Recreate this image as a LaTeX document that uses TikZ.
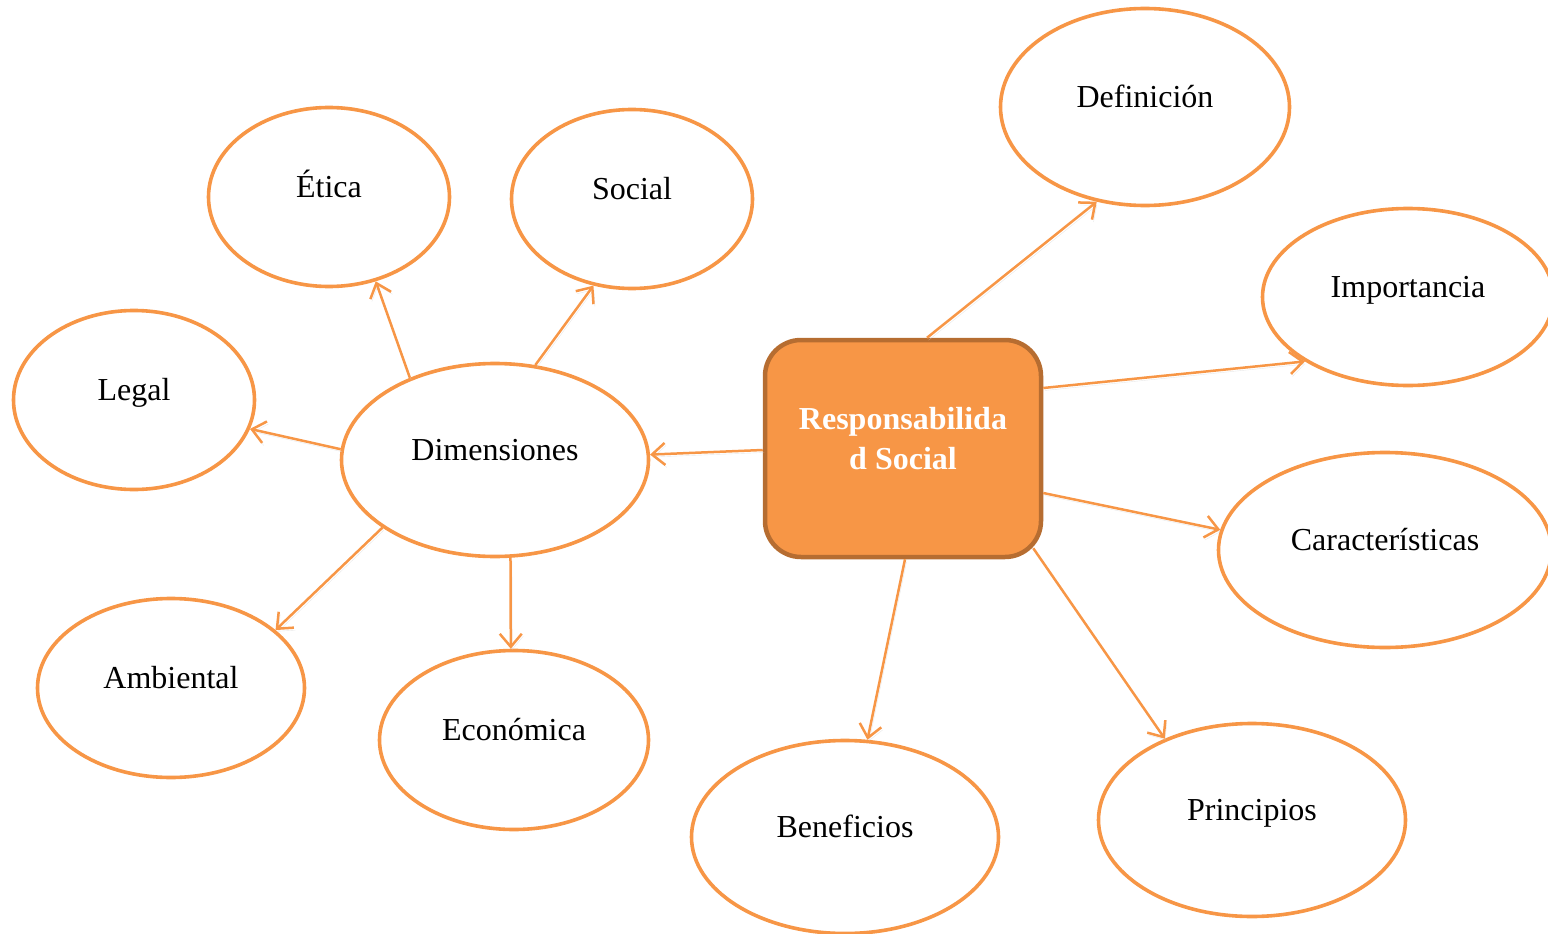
\documentclass[tikz,border=0pt]{standalone}
\usepackage{fontspec}
\setmainfont{Liberation Serif}
\usetikzlibrary{shapes.geometric,arrows.meta}
\definecolor{rimorange}{HTML}{F79646}
\definecolor{hubfill}{HTML}{F79646}
\definecolor{hubrim}{HTML}{B66D31}
\begin{document}
\begin{tikzpicture}[x=1pt,y=-1pt,
  bubble/.style={ellipse, draw=rimorange, line width=3.6pt, fill=white, inner sep=0pt},
  caption/.style={font=\fontsize{32}{38}\selectfont, text=black,
    text height=21pt, text depth=0pt},
  link/.style={draw=rimorange, line width=2.5pt,
    -{Straight Barb[length=13pt,width=22pt,line width=2.5pt]},
    preaction={draw=black!18, opacity=0.5,
      transform canvas={shift={(1.5pt,-2.5pt)}}}},
  hub/.style={rectangle, rounded corners=36pt, draw=hubrim, line width=4.5pt,
    fill=hubfill, minimum width=276pt, minimum height=217pt, inner sep=0pt}
]
\useasboundingbox (0,0) rectangle (1548,934);
\clip (0,0) rectangle (1548,934);

% central topic
\node[hub] (rs) at (903,448.5) {};
\node[font=\bfseries\fontsize{32}{40}\selectfont, text=white, align=center]
  (rslabel) at (903,439) {Responsabilida\\d Social};

% right-hand topics
\node[bubble, minimum width=289pt, minimum height=197pt,
  label={[caption,yshift=10pt]center:Definición}] (def) at (1145,107) {};
\node[bubble, minimum width=291pt, minimum height=177pt,
  label={[caption,yshift=10pt]center:Importancia}] (imp) at (1408,297) {};
\node[bubble, minimum width=333pt, minimum height=195pt,
  label={[caption,yshift=10pt]center:Características}] (car) at (1385,550) {};
\node[bubble, minimum width=307pt, minimum height=193pt,
  label={[caption,yshift=10pt]center:Principios}] (pri) at (1252,820) {};
\node[bubble, minimum width=307pt, minimum height=193pt,
  label={[caption,yshift=10pt]center:Beneficios}] (ben) at (845,837) {};

% dimensions branch
\node[bubble, minimum width=307pt, minimum height=193pt,
  label={[caption,yshift=10pt]center:Dimensiones}] (dim) at (495,460) {};
\node[bubble, minimum width=241pt, minimum height=179pt,
  label={[caption,yshift=10pt]center:Ética}] (eti) at (329,197) {};
\node[bubble, minimum width=241pt, minimum height=179pt,
  label={[caption,yshift=10pt]center:Social}] (soc) at (632,199) {};
\node[bubble, minimum width=241pt, minimum height=179pt,
  label={[caption,yshift=10pt]center:Legal}] (leg) at (134,400) {};
\node[bubble, minimum width=267pt, minimum height=179pt,
  label={[caption,yshift=10pt]center:Ambiental}] (amb) at (171,688) {};
\node[bubble, minimum width=269pt, minimum height=179pt,
  label={[caption,yshift=10pt]center:Económica}] (eco) at (514,740) {};

% connectors from the central topic
\draw[link] ([xshift=24pt]rs.north) -- (def.-117);
\draw[link] ([yshift=60.5pt]rs.east) -- (imp.212.2);
\draw[link] ([yshift=-44.5pt]rs.east) -- (car.173.2);
\draw[link] ([xshift=-10pt,yshift=11pt]rs.south east) -- (pri.137.1);
\draw[link] ([xshift=2pt]rs.south) -- (ben.77.1);
\draw[link] ([yshift=-1.5pt]rs.west) -- (dim.2.2);

% connectors from the dimensions node
\draw[link] (dim.136) -- (eti.-61.3);
\draw[link] (dim.67.2) -- (soc.-114.5);
\draw[link] (dim.176.3) -- (leg.-14.5);
\draw[link] (dim.-149) -- (amb.29.2);
\draw[link] (dim.-81.4) -- (eco.92.5);
\end{tikzpicture}
\end{document}
